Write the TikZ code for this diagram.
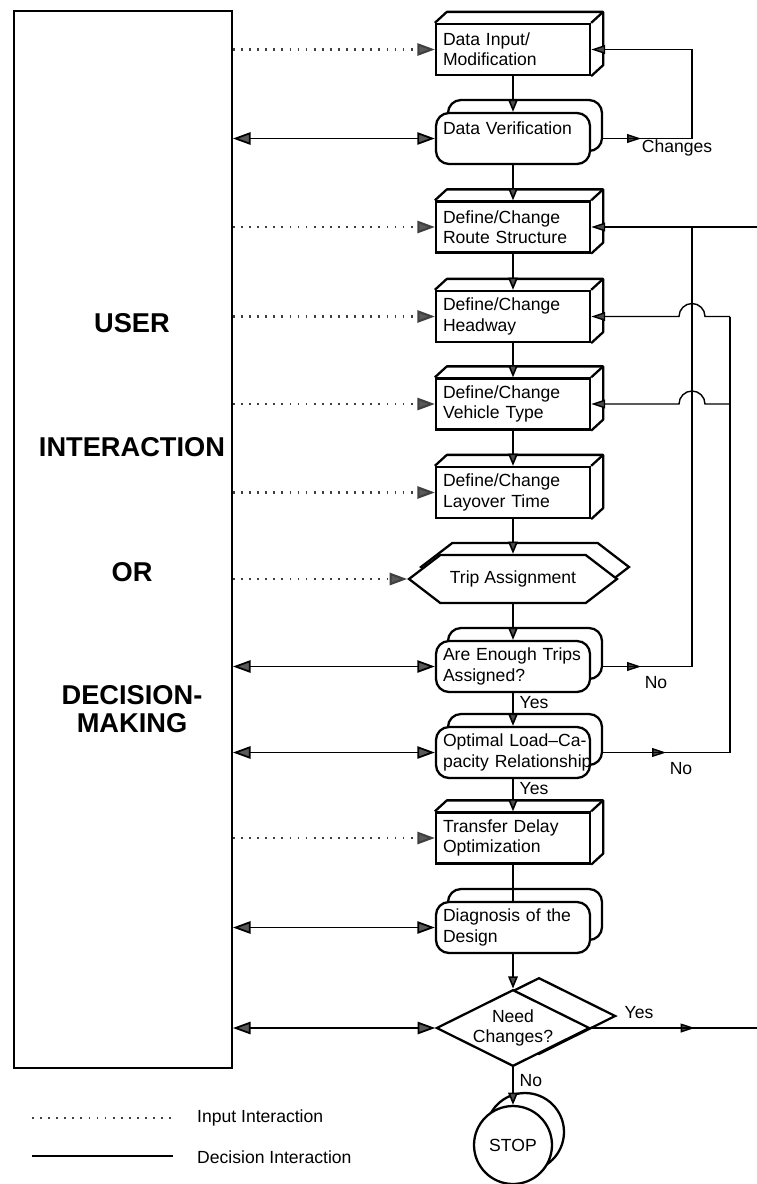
\documentclass[tikz,border=0pt]{standalone}
\usepackage{fontspec}
\setmainfont{Liberation Sans}
\usetikzlibrary{arrows.meta,calc,shadows,shapes.geometric,shapes.symbols}

\tikzset{
  txt/.style={font=\fontsize{10}{11.5}\selectfont},
  box/.style={txt, draw, line width=1.3pt, fill=white, text width=2.8cm,
    minimum height=1.02cm, align=left, inner xsep=4pt},
  stack/.style={box, rounded corners=0.26cm,
    copy shadow={draw, fill=white, line width=1.3pt, shadow xshift=0.24cm, shadow yshift=0.26cm}},
  trip/.style={txt, draw, line width=1.3pt, fill=white, signal, signal to=west and east,
    signal pointer angle=75, minimum width=4.16cm, minimum height=0.96cm, inner sep=0pt,
    copy shadow={draw, fill=white, line width=1.3pt, shadow xshift=0.24cm, shadow yshift=0.24cm}},
  ask/.style={txt, draw, diamond, aspect=2, line width=1.3pt, fill=white, align=center,
    minimum width=3cm, minimum height=1.48cm, inner sep=0pt,
    copy shadow={draw, fill=white, line width=1.3pt, shadow xshift=0.52cm, shadow yshift=0.24cm}},
  stopc/.style={txt, draw, circle, line width=1.3pt, fill=white, minimum size=1.56cm,
    copy shadow={draw, fill=white, line width=1.3pt, shadow xshift=0.24cm, shadow yshift=0.26cm}},
  face/.style={line width=1.3pt, line join=round},
  flow/.style={line width=0.9pt, -{Triangle[length=7pt,width=5.5pt,fill=black!70]}},
  inp/.style={line width=1.2pt, black!75, dash pattern=on 1pt off 3.6pt,
    -{Triangle[length=10pt,width=7pt,fill=black!65]}},
  dec/.style={line width=1pt,
    {Triangle[length=10pt,width=7pt,fill=black!65]}-{Triangle[length=10pt,width=7pt,fill=black!65]}},
  back/.style={line width=0.8pt},
  tip/.style={back, -{Triangle[length=8pt,width=5pt,fill=black!70]}},
  big/.style={font=\fontsize{15.5}{16}\selectfont\bfseries, align=center}
}

\begin{document}
\begin{tikzpicture}[x=0.02cm, y=-0.02cm]
  \useasboundingbox (0,0) rectangle (757,1184);

  % the user side
  \node[draw, line width=1.1pt, minimum width=4.36cm, minimum height=21.14cm] (user) at (123,539.5) {};
  \node[big] (l1) at (132,323) {USER};
  \node[big] (l2) at (132,447) {INTERACTION};
  \node[big] (l3) at (132,572) {OR};
  \node[big] (l4) at (132,709) {DECISION-\\MAKING};

  % the steps of the design
  \node[box] (ip) at (513,49.5) {Data Input/\\Modification};
  \node[stack] (dv) at (513,138.5) {Data Verification\\\mbox{}};
  \node[box] (rs) at (513,227) {Define/Change\\Route Structure};
  \node[box] (hw) at (513,316.5) {Define/Change\\Headway};
  \node[box] (vt) at (513,404) {Define/Change\\Vehicle Type};
  \node[box] (lt) at (513,492.5) {Define/Change\\Layover Time};
  \node[trip] (ta) at (513,579) {Trip Assignment};
  \node[stack] (ae) at (513,666.5) {Are Enough Trips\\Assigned?};
  \node[stack] (ol) at (513,752.5) {\mbox{Optimal Load--Ca-}\\\mbox{pacity Relationship}};
  \node[box] (td) at (513,838) {Transfer Delay\\Optimization};
  \node[stack] (dg) at (513,927.5) {Diagnosis of the\\Design};
  \node[ask] (nc) at (513,1028) {Need\\Changes?};
  \node[stopc] (stop) at (513,1145) {STOP};

  % the 3d faces of the boxes
  \foreach \b in {ip,rs,hw,vt,lt,td}{
    \draw[face] (\b.north west) -- ++(12,-11) -- ($(\b.north east)+(12,-11)$)
      -- ($(\b.south east)+(12,-11)$) -- (\b.south east);
    \draw[face] (\b.north east) -- ++(12,-11);
  }

  % the flow down
  \draw[flow] (ip) -- (dv);
  \draw[flow] (dv) -- (rs);
  \draw[flow] (rs) -- (hw);
  \draw[flow] (hw) -- (vt);
  \draw[flow] (vt) -- (lt);
  \draw[flow] (lt) -- (ta);
  \draw[flow] (ta) -- (ae);
  \draw[flow] (ae) -- node[txt, right, pos=0.3] {Yes} (ol);
  \draw[flow] (ol) -- node[txt, right, pos=0.3] {Yes} (td);
  \draw[line width=0.9pt] (td) -- (dg);
  \draw[flow] (dg) -- (nc);
  \draw[flow] (nc) -- node[txt, right, pos=0.35] {No} (stop);

  % the interaction with the user
  \draw[inp] (user.east |- ip.west) -- (ip.west);
  \draw[dec] (user.east |- dv.west) -- (dv.west);
  \draw[inp] (user.east |- rs.west) -- (rs.west);
  \draw[inp] (user.east |- hw.west) -- (hw.west);
  \draw[inp] (user.east |- vt.west) -- (vt.west);
  \draw[inp] (user.east |- lt.west) -- (lt.west);
  \draw[inp] (user.east |- ta.west) -- (ta.west);
  \draw[dec] (user.east |- ae.west) -- (ae.west);
  \draw[dec] (user.east |- ol.west) -- (ol.west);
  \draw[inp] (user.east |- td.west) -- (td.west);
  \draw[dec] (user.east |- dg.west) -- (dg.west);
  \draw[dec] (user.east |- nc.west) -- (nc.west);

  % the loops back
  \coordinate (c1) at (692,0);
  \coordinate (c2) at (730,0);
  \coordinate (c3) at (763,0);
  \draw[tip] ([xshift=0.24cm]dv.east) -- ++(38,0);
  \draw[tip] ([xshift=0.24cm]dv.east) -- (dv.east -| c1) |- (ip.east);
  \node[txt] (chg) at (677,148) {Changes};

  \draw[tip] ([xshift=0.24cm]ae.east) -- ++(38,0);
  \draw[back] ([xshift=0.24cm]ae.east) -- (ae.east -| c1) -- (rs.east -| c1);
  \node[txt] (no1) at (656,683) {No};

  \draw[tip] ([xshift=0.24cm]ol.east) -- ++(63,0);
  \draw[back] ([xshift=0.24cm]ol.east) -- (ol.east -| c2) -- (hw.east -| c2);
  \node[txt] (no2) at (681,769) {No};
  \draw[tip] (hw.east -| c2) -- ($(hw.east -| c1)+(13,0)$)
    arc[start angle=0, end angle=180, radius=0.26cm] -- (hw.east);
  \draw[tip] (vt.east -| c2) -- ($(vt.east -| c1)+(13,0)$)
    arc[start angle=0, end angle=180, radius=0.26cm] -- (vt.east);

  \draw[tip] (nc.east) -- ++(104,0);
  \draw[tip] (nc.east) -- (nc.east -| c3) |- (rs.east);
  \node[txt] (yes3) at (639,1013) {Yes};

  % the legend
  \draw[inp, -] (32,1118) -- (173,1118);
  \node[txt, anchor=west] (lg1) at (191,1118) {Input Interaction};
  \draw[line width=1.2pt] (32,1156) -- (173,1156);
  \node[txt, anchor=west] (lg2) at (191,1157) {Decision Interaction};
\end{tikzpicture}
\end{document}
